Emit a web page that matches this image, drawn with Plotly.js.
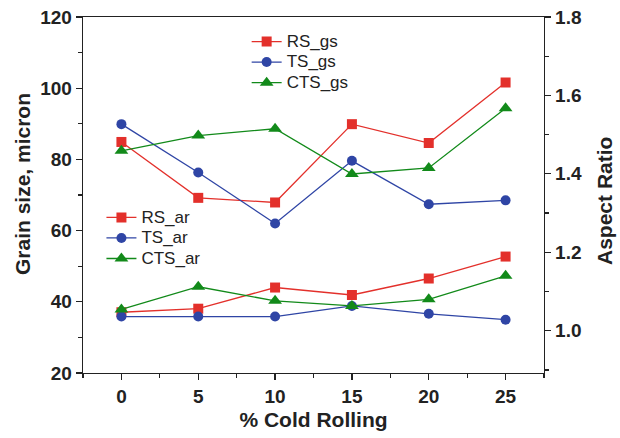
<!DOCTYPE html>
<html>
<head>
<meta charset="utf-8">
<script src="https://cdn.plot.ly/plotly-3.0.1.min.js"></script>
<style>html,body{margin:0;padding:0;background:#fff;}#chart{width:620px;height:438px;}</style>
</head>
<body>
<div id="chart"></div>
<script>
var coldRolling = [0, 5, 10, 15, 20, 25];
var RS_gs = [84.9, 69.2, 67.9, 89.9, 84.6, 101.6];
var TS_gs = [89.9, 76.3, 62.0, 79.6, 67.4, 68.5];
var CTS_gs = [82.4, 86.7, 88.6, 75.9, 77.6, 94.4];
var RS_ar = [1.047, 1.056, 1.110, 1.091, 1.133, 1.189];
var TS_ar = [1.036, 1.036, 1.036, 1.063, 1.043, 1.028];
var CTS_ar = [1.054, 1.112, 1.076, 1.063, 1.080, 1.140];

var red = '#e3302b', blue = '#2f45a5', green = '#128a1a';
function tr(name, y, color, sym, axis, leg) {
  var t = {x: coldRolling, y: y, name: '<span style="font-size:17px">' + name + '</span>',
    type: 'scatter', mode: 'lines+markers',
    line: {color: color, width: 1.3},
    marker: {color: color, symbol: sym, size: sym === 'triangle-up' ? 12 : 10},
    legend: leg};
  if (axis) t.yaxis = axis;
  return t;
}
var data = [
  tr('RS_gs', RS_gs, red, 'square', null, 'legend'),
  tr('TS_gs', TS_gs, blue, 'circle', null, 'legend'),
  tr('CTS_gs', CTS_gs, green, 'triangle-up', null, 'legend'),
  tr('RS_ar', RS_ar, red, 'square', 'y2', 'legend2'),
  tr('TS_ar', TS_ar, blue, 'circle', 'y2', 'legend2'),
  tr('CTS_ar', CTS_ar, green, 'triangle-up', 'y2', 'legend2')
];
var fam = 'Liberation Sans, Arial, sans-serif';
var tickFont = {family: fam, size: 19, color: '#222'};
var titleFont = {family: fam, size: 21, color: '#222'};
var legFont = {family: fam, size: 13.5, color: '#222'};
var layout = {
  width: 620, height: 438,
  margin: {l: 83, r: 76, t: 17, b: 65},
  paper_bgcolor: '#fff', plot_bgcolor: '#fff',
  showlegend: true,
  font: {family: fam},
  xaxis: {
    range: [-2.5, 27.5], tick0: 0, dtick: 5, ticks: 'outside', ticklen: 6, tickwidth: 1.3,
    tickcolor: '#222', showline: true, linecolor: '#222', linewidth: 1.3, mirror: true,
    showgrid: false, zeroline: false, tickfont: tickFont,
    tickprefix: '<b>', ticksuffix: '</b>',
    minor: {dtick: 2.5, ticks: 'outside', ticklen: 4, tickcolor: '#222'},
    title: {text: '<b>% Cold Rolling</b>', font: titleFont, standoff: 6}
  },
  yaxis: {
    range: [20, 120], tick0: 0, dtick: 20, ticks: 'outside', ticklen: 6, tickwidth: 1.3,
    tickcolor: '#222', showline: true, linecolor: '#222', linewidth: 1.3,
    showgrid: false, zeroline: false, tickfont: tickFont,
    tickprefix: '<b>', ticksuffix: '</b>',
    minor: {dtick: 10, ticks: 'outside', ticklen: 4, tickcolor: '#222'}
  },
  yaxis2: {
    overlaying: 'y', side: 'right',
    range: [0.892, 1.8], tick0: 0, dtick: 0.2, tickformat: '.1f', ticks: 'outside', ticklen: 6, tickwidth: 1.3,
    tickcolor: '#222', showline: true, linecolor: '#222', linewidth: 1.3,
    showgrid: false, zeroline: false, tickfont: tickFont,
    tickprefix: '<b>', ticksuffix: '</b>',
    minor: {dtick: 0.1, ticks: 'outside', ticklen: 4, tickcolor: '#222'}
  },
  annotations: [
    {text: '<b>Grain size, micron</b>', xref: 'paper', yref: 'paper', x: -0.130, y: 0.531,
     xanchor: 'center', yanchor: 'middle', textangle: -90, showarrow: false, font: titleFont},
    {text: '<b>Aspect Ratio</b>', xref: 'paper', yref: 'paper', x: 1.130, y: 0.483,
     xanchor: 'center', yanchor: 'middle', textangle: -90, showarrow: false, font: titleFont}
  ],
  legend: {x: 0.355, y: 0.974, xanchor: 'left', yanchor: 'top', bgcolor: 'rgba(0,0,0,0)',
    font: legFont, tracegroupgap: 0, itemwidth: 30},
  legend2: {x: 0.04, y: 0.48, xanchor: 'left', yanchor: 'top', bgcolor: 'rgba(0,0,0,0)',
    font: legFont, tracegroupgap: 0, itemwidth: 30}
};
Plotly.newPlot('chart', data, layout, {displayModeBar: false, staticPlot: true});
</script>
</body>
</html>
